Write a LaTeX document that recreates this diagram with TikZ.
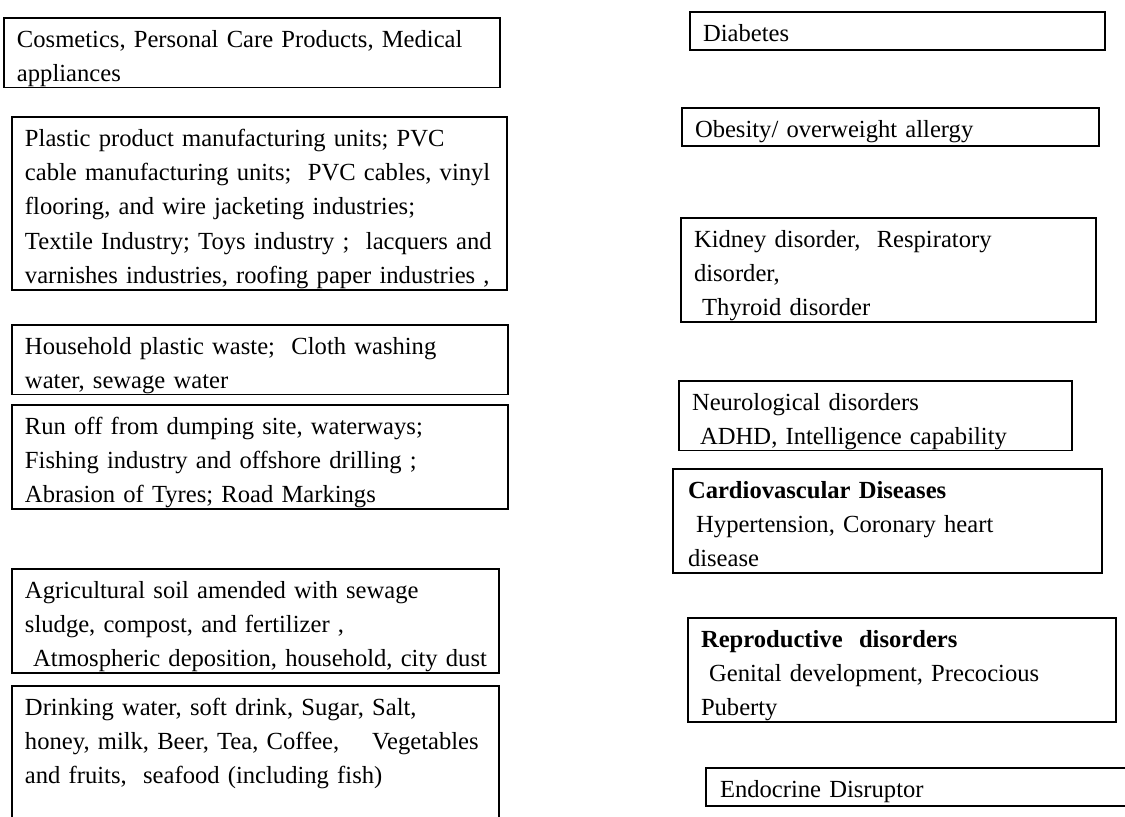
\documentclass[tikz,border=0pt]{standalone}
\usepackage{fontspec}
\setmainfont{Liberation Serif}
\usepackage{tikz}
\usetikzlibrary{positioning}
\tikzset{
  srcbox/.style={draw, line width=0.9pt, anchor=north west, align=left,
    inner xsep=6.5pt, inner ysep=0pt, outer sep=0pt,
    font=\fontsize{12.3}{17.2}\selectfont,
    execute at begin node={\rule{0pt}{14.5pt}},
    execute at end node={\rule[-3pt]{0pt}{3pt}}},
  onebox/.style={srcbox, execute at end node={\rule[-4.5pt]{0pt}{4.5pt}}}
}

\begin{document}
\begin{tikzpicture}[x=0.5pt, y=-0.5pt]
    \clip (0,0) rectangle (1125,816);

    \node (cosm) [srcbox, text width=235pt] at (4,18)
      {Cosmetics, Personal Care Products, Medical\\appliances};
    \node (plast) [srcbox, text width=234.5pt] at (12,117)
      {Plastic product manufacturing units; PVC\\cable manufacturing units;\ \ PVC cables, vinyl\\flooring, and wire jacketing industries;\\Textile Industry; Toys industry ;\ \ lacquers and\\varnishes industries, roofing paper industries ,};
    \node (house) [srcbox, text width=235pt] at (12,325)
      {Household plastic waste;\ \ Cloth washing\\water, sewage water};
    \node (runoff) [srcbox, text width=235pt] at (12,405)
      {Run off from dumping site, waterways;\\Fishing industry and offshore drilling ;\\Abrasion of Tyres; Road Markings};
    \node (agri) [srcbox, text width=230.5pt] at (12,569)
      {Agricultural soil amended with sewage\\sludge, compost, and fertilizer ,\\\mbox{\ Atmospheric deposition, household, city dust}};
    \node (drink) [srcbox, text width=230.5pt, execute at end node={\rule[-70pt]{0pt}{1pt}}] at (12,686)
      {Drinking water, soft drink, Sugar, Salt,\\honey, milk, Beer, Tea, Coffee,\ \ \ \ Vegetables\\and fruits,\ \ seafood (including fish)};

    \node (diab) [onebox, text width=194.5pt] at (690,12)
      {Diabetes};
    \node (obes) [onebox, text width=195.5pt] at (682,108)
      {Obesity/ overweight allergy};
    \node (kidn) [srcbox, text width=194.5pt] at (681,218)
      {Kidney disorder,\ \ Respiratory\\disorder,\\\ Thyroid disorder};
    \node (neuro) [srcbox, text width=183.5pt] at (679,381)
      {Neurological disorders\\\ ADHD, Intelligence capability};
    \node (cardio) [srcbox, inner xsep=7.5pt, text width=199.5pt] at (673,469)
      {\textbf{Cardiovascular Diseases}\\\ Hypertension, Coronary heart\\disease};
    \node (repro) [srcbox, text width=201pt] at (688,618)
      {\textbf{Reproductive\ \ disorders}\\\ Genital development, Precocious\\Puberty};
    \node (endo) [onebox, inner xsep=7pt, text width=203pt] at (706,768)
      {Endocrine Disruptor};
\end{tikzpicture}
\end{document}
